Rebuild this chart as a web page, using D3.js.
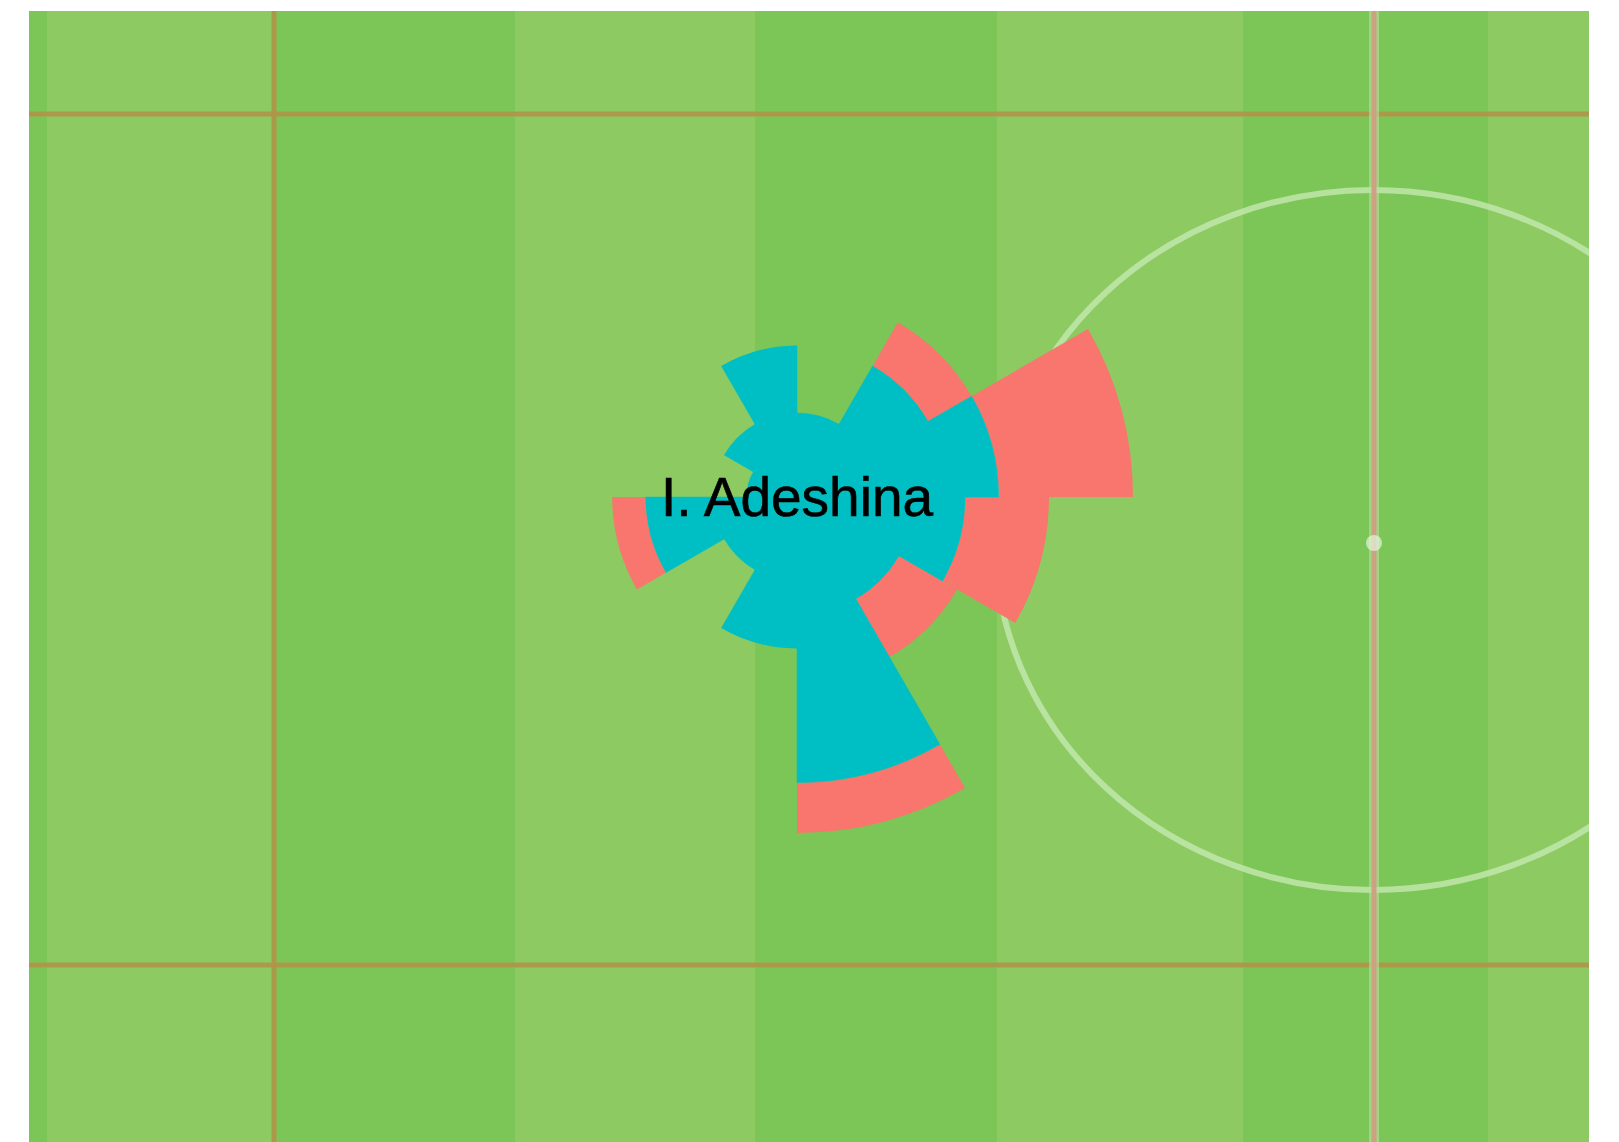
<!DOCTYPE html>
<html>
<head>
<meta charset="utf-8">
<script src="https://cdn.jsdelivr.net/npm/d3@7"></script>
<style>
  html, body { margin: 0; padding: 0; background: #fff; }
  svg { display: block; }
</style>
</head>
<body>
<div id="chart"></div>
<script>
// pass directions, 30 degree bins, clockwise from "up"
const binStart = [0, 30, 60, 90, 120, 150, 180, 210, 240, 270, 300, 330];
const completed = [5, 9, 12, 10, 7, 17, 9, 5, 9, 3, 5, 9];
const failed = [0, 3, 8, 5, 4, 3, 0, 0, 2, 0, 0, 0];
const playerName = 'I. Adeshina';

const width = 1619, height = 1142;

const svg = d3.select('#chart').append('svg')
  .attr('width', width)
  .attr('height', height);

// ---- pitch background ----
const pitch = { x0: 29, x1: 1589, y0: 11, y1: 1142 };
const stripeEdges = [29, 47, 272, 515, 755, 997, 1243, 1488, 1589];
const stripeColors = ['#7cc657', '#8dcb62'];

svg.append('defs').append('clipPath')
  .attr('id', 'pitch-clip')
  .append('rect')
    .attr('x', pitch.x0)
    .attr('y', pitch.y0)
    .attr('width', pitch.x1 - pitch.x0)
    .attr('height', pitch.y1 - pitch.y0);

const bg = svg.append('g')
  .attr('class', 'pitch')
  .attr('clip-path', 'url(#pitch-clip)');

bg.selectAll('rect.stripe')
  .data(d3.pairs(stripeEdges))
  .join('rect')
    .attr('class', 'stripe')
    .attr('x', d => d[0])
    .attr('y', pitch.y0)
    .attr('width', d => d[1] - d[0])
    .attr('height', pitch.y1 - pitch.y0)
    .attr('fill', (d, i) => stripeColors[i % 2]);

const lineColor = '#b0944a';
[114, 965].forEach(y => {
  bg.append('line')
    .attr('x1', pitch.x0).attr('x2', pitch.x1)
    .attr('y1', y).attr('y2', y)
    .attr('stroke', lineColor)
    .attr('stroke-width', 5)
    .attr('stroke-opacity', 0.9);
});
bg.append('line')
  .attr('x1', 274).attr('x2', 274)
  .attr('y1', pitch.y0).attr('y2', pitch.y1)
  .attr('stroke', lineColor)
  .attr('stroke-width', 5)
  .attr('stroke-opacity', 0.9);

// centre circle (the pitch image is stretched a bit, hence the ellipse)
bg.append('ellipse')
  .attr('cx', 1373).attr('cy', 540)
  .attr('rx', 378).attr('ry', 350)
  .attr('fill', 'none')
  .attr('stroke', '#c4e8b0')
  .attr('stroke-opacity', 0.8)
  .attr('stroke-width', 6);

// halfway line
bg.append('line')
  .attr('x1', 1374).attr('x2', 1374)
  .attr('y1', pitch.y0).attr('y2', pitch.y1)
  .attr('stroke', '#b9e0a2')
  .attr('stroke-opacity', 0.6)
  .attr('stroke-width', 10);
bg.append('line')
  .attr('x1', 1374).attr('x2', 1374)
  .attr('y1', pitch.y0).attr('y2', pitch.y1)
  .attr('stroke', '#cda283')
  .attr('stroke-width', 5);

bg.append('ellipse')
  .attr('cx', 1374).attr('cy', 543)
  .attr('rx', 8).attr('ry', 8)
  .attr('fill', '#e4f3dc')
  .attr('opacity', 0.7);

// ---- pass rose ----
const cx = 797, cy = 497;
const r = d3.scaleLinear().domain([0, 20]).range([0, 336]);
const toRad = d => d * Math.PI / 180;

const rows = binStart.map((a, i) => ({
  start: toRad(a),
  end: toRad(a + 30),
  completed: completed[i],
  failed: failed[i]
}));

const rose = svg.append('g')
  .attr('transform', `translate(${cx},${cy})`);

const arc = d3.arc();

rose.selectAll('path.failed')
  .data(rows.filter(d => d.failed > 0))
  .join('path')
    .attr('class', 'failed')
    .attr('fill', '#f8766d')
    .attr('d', d => arc({
      innerRadius: r(d.completed),
      outerRadius: r(d.completed + d.failed),
      startAngle: d.start,
      endAngle: d.end
    }));

rose.selectAll('path.completed')
  .data(rows)
  .join('path')
    .attr('class', 'completed')
    .attr('fill', '#00bfc4')
    .attr('stroke', '#00bfc4')
    .attr('stroke-width', 0.5)
    .attr('d', d => arc({
      innerRadius: 0,
      outerRadius: r(d.completed),
      startAngle: d.start,
      endAngle: d.end
    }));

rose.append('text')
  .attr('x', 0)
  .attr('y', 19)
  .attr('text-anchor', 'middle')
  .attr('font-family', '"Liberation Sans", Arial, sans-serif')
  .attr('font-size', 55)
  .attr('fill', '#000')
  .attr('stroke', '#000')
  .attr('stroke-width', 0.6)
  .text(playerName);
</script>
</body>
</html>
